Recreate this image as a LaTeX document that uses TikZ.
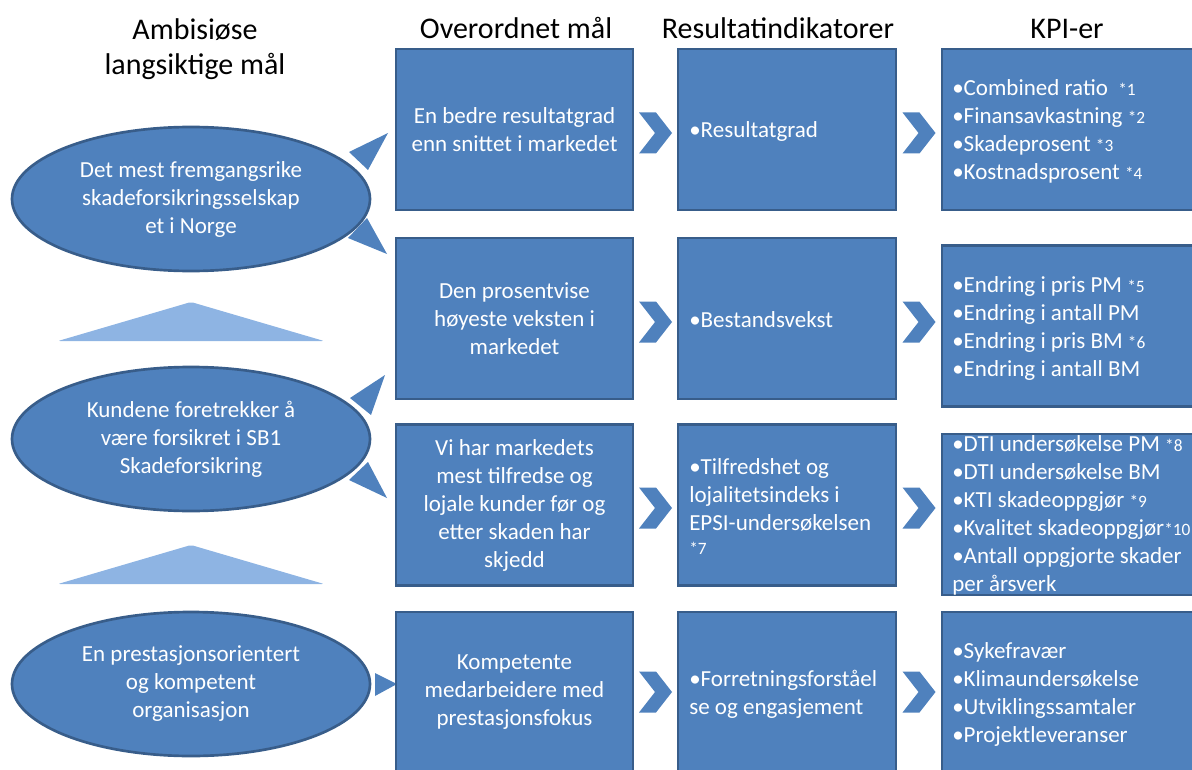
\documentclass[tikz,border=0pt]{standalone}
\usepackage{fontspec}
\setmainfont{Carlito}
\usetikzlibrary{shapes.geometric,calc}
\definecolor{boxfill}{HTML}{4F81BD}
\definecolor{boxedge}{HTML}{385D8A}
\definecolor{lighttri}{HTML}{8EB4E3}
\newcommand\kpifn{\fontsize{13}{15}\selectfont}
\newcommand\bodyfont{\fontsize{17.25}{21}\selectfont}

\begin{document}
\begin{tikzpicture}[x=0.75pt,y=-0.75pt,
  goalbox/.style={draw=boxedge, fill=boxfill, line width=2pt, minimum height=120.75pt,
    inner sep=0pt, text=white, align=center, font=\bodyfont},
  colO/.style={goalbox, minimum width=177.75pt},
  colR/.style={goalbox, minimum width=163.5pt},
  colK/.style={goalbox, minimum width=204.75pt},
  goaloval/.style={ellipse, draw=boxedge, fill=boxfill, line width=2pt,
    minimum width=268.5pt, minimum height=108pt, inner sep=0pt,
    text=white, align=center, font=\bodyfont},
  ltext/.style={text=white, align=left, font=\bodyfont, inner sep=0pt, anchor=west},
  header/.style={font=\fontsize{22.5}{26.25}\selectfont, inner sep=0pt, align=center},
  pointer/.style={fill=boxfill},
  lighttriangle/.style={fill=lighttri, rounded corners=1.5pt},
  chev/.pic={\fill[boxfill] (-16.5,-20.5) -- (0.5,-20.5) -- (16.5,0) -- (0.5,20.5)
    -- (-16.5,20.5) -- (-0.5,0) -- cycle;}
]
\useasboundingbox (0,0) rectangle (1192,770);
\clip (0,0) rectangle (1192,770);

% column headings
\node[header, anchor=north] (hA) at (195,18) {Ambisiøse\\langsiktige mål};
\node[header, anchor=base] (hO) at (516,39) {Overordnet mål};
\node[header, anchor=base] (hR) at (778,39) {Resultatindikatorer};
\node[header, anchor=base] (hK) at (1067,39) {KPI-er};

% long-term goals
\node[goaloval] (e1) at (191,199) {Det mest fremgangsrike\\skadeforsikringsselskap\\et i Norge};
\node[goaloval] (e2) at (191,439) {Kundene foretrekker å\\være forsikret i SB1\\Skadeforsikring};
\node[goaloval] (e3) at (191,684) {En prestasjonsorientert\\og kompetent\\organisasjon};

% upward pointers between the long-term goals
\fill[lighttriangle] (58,341) -- (191,302) -- (324,341) -- cycle;
\fill[lighttriangle] (58,584) -- (191,545) -- (324,584) -- cycle;

% pointers from the ovals to the overall goals
\fill[pointer] (349,152) -- (368,170) -- (388,133) -- cycle;
\fill[pointer] (348,238) -- (367,218) -- (387,254) -- cycle;
\fill[pointer] (350,398) -- (371,415) -- (385,375) -- cycle;
\fill[pointer] (349,480) -- (368,462) -- (387,498) -- cycle;
\fill[pointer] (375,673) -- (375,696) -- (397,684) -- cycle;

% overall goals
\node[colO] (o1) at (514.5,129.5) {En bedre resultatgrad\\enn snittet i markedet};
\node[colO] (o2) at (514.5,318.5) {Den prosentvise\\høyeste veksten i\\markedet};
\node[colO] (o3) at (514.5,505) {Vi har markedets\\mest tilfredse og\\lojale kunder før og\\etter skaden har\\skjedd};
\node[colO] (o4) at (514.5,692.5) {Kompetente\\medarbeidere med\\prestasjonsfokus};

% result indicators
\node[colR] (r1) at (787,129.5) {};
\node[colR] (r2) at (787,318.5) {};
\node[colR] (r3) at (787,505) {};
\node[colR] (r4) at (787,692.5) {};
\node[ltext] (r1t) at (689,131) {•Resultatgrad};
\node[ltext] (r2t) at (689,320) {•Bestandsvekst};
\node[ltext] (r3t) at (689,507) {•Tilfredshet og\\lojalitetsindeks i\\EPSI-undersøkelsen\\[-3pt]{\kpifn *7}};
\node[ltext] (r4t) at (689,694) {•Forretningsforståel\\se og engasjement};

% KPIs
\node[colK] (k1) at (1078.5,129.5) {};
\node[colK] (k2) at (1078.5,326) {};
\node[colK] (k3) at (1078.5,514.5) {};
\node[colK] (k4) at (1078.5,692.5) {};
\node[ltext] (k1t) at (952,131) {•Combined ratio\ \ {\kpifn *1}\\•Finansavkastning {\kpifn *2}\\•Skadeprosent {\kpifn *3}\\•Kostnadsprosent {\kpifn *4}};
\node[ltext] (k2t) at (952,328) {•Endring i pris PM {\kpifn *5}\\•Endring i antall PM\\•Endring i pris BM {\kpifn *6}\\•Endring i antall BM};
\node[ltext] (k3t) at (952,515) {•DTI undersøkelse PM {\kpifn *8}\\•DTI undersøkelse BM\\•KTI skadeoppgjør {\kpifn *9}\\•Kvalitet skadeoppgjør{\kpifn *10}\\•Antall oppgjorte skader\\per årsverk};
\node[ltext] (k4t) at (952,694) {•Sykefravær\\•Klimaundersøkelse\\•Utviklingssamtaler\\•Projektleveranser};

% chevrons between the columns
\pic at (655.5,133) {chev};
\pic at (655.5,322) {chev};
\pic at (655.5,508) {chev};
\pic at (655.5,692) {chev};
\pic at (919,133) {chev};
\pic at (919,322) {chev};
\pic at (919,508) {chev};
\pic at (919,692) {chev};
\end{tikzpicture}
\end{document}
